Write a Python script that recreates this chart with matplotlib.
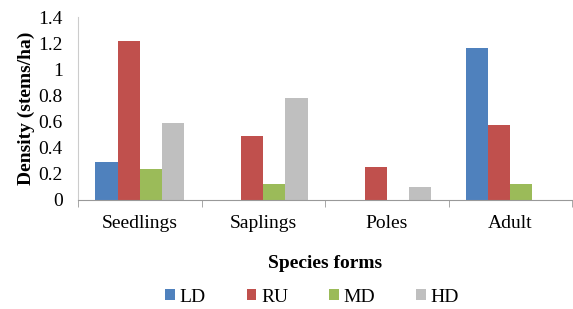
import numpy as np
from matplotlib import pyplot as plt

plt.rcParams['font.family'] = ['Liberation Serif', 'DejaVu Serif']

forms = ['Seedlings', 'Saplings', 'Poles', 'Adult']
LD = [0.29, 0, 0, 1.16]
RU = [1.22, 0.49, 0.25, 0.57]
MD = [0.24, 0.12, 0, 0.12]
HD = [0.59, 0.78, 0.10, 0]
series = [('LD', LD, '#4F81BD'), ('RU', RU, '#C0504D'),
          ('MD', MD, '#9BBB59'), ('HD', HD, '#BFBFBF')]

fig = plt.figure(figsize=(5.73, 3.09), dpi=100)
ax = fig.add_axes([78/573, 1 - 200/309, (572-78)/573, (200-17)/309])

x = np.arange(len(forms))
w = 0.18
for i, (name, vals, c) in enumerate(series):
    ax.bar(x + (i - 1.5) * w, vals, w, color=c, label=name)

ax.set_xlim(-0.5, 3.5)
ax.set_ylim(0, 1.4)
ax.set_yticks([0, 0.2, 0.4, 0.6, 0.8, 1, 1.2, 1.4])
ax.set_yticklabels(['0', '0.2', '0.4', '0.6', '0.8', '1', '1.2', '1.4'])
ax.set_xticks(x)
ax.set_xticklabels(forms)
ax.set_xticks(np.arange(-0.5, 4, 1), minor=True)
ax.tick_params(axis='x', which='major', length=0, labelsize=14, pad=11)
ax.tick_params(axis='x', which='minor', length=5, color='#999999', direction='out')
ax.tick_params(axis='y', length=0, labelsize=14, pad=11)
for s in ['top', 'right']:
    ax.spines[s].set_visible(False)
ax.spines['bottom'].set_color('#999999')
ax.spines['left'].set_color('#cccccc')

ax.set_xlabel('Species forms', fontsize=14, fontweight='bold', labelpad=16)
ax.set_ylabel('Density (stems/ha)', fontsize=14, fontweight='bold', labelpad=2)

fig.legend(loc='center', bbox_to_anchor=(312/573, 1 - 297/309), ncol=4,
           frameon=False, fontsize=14, handlelength=0.5, handleheight=0.5,
           handletextpad=0.25, columnspacing=2.1)

fig.savefig('out.png', dpi=100)
